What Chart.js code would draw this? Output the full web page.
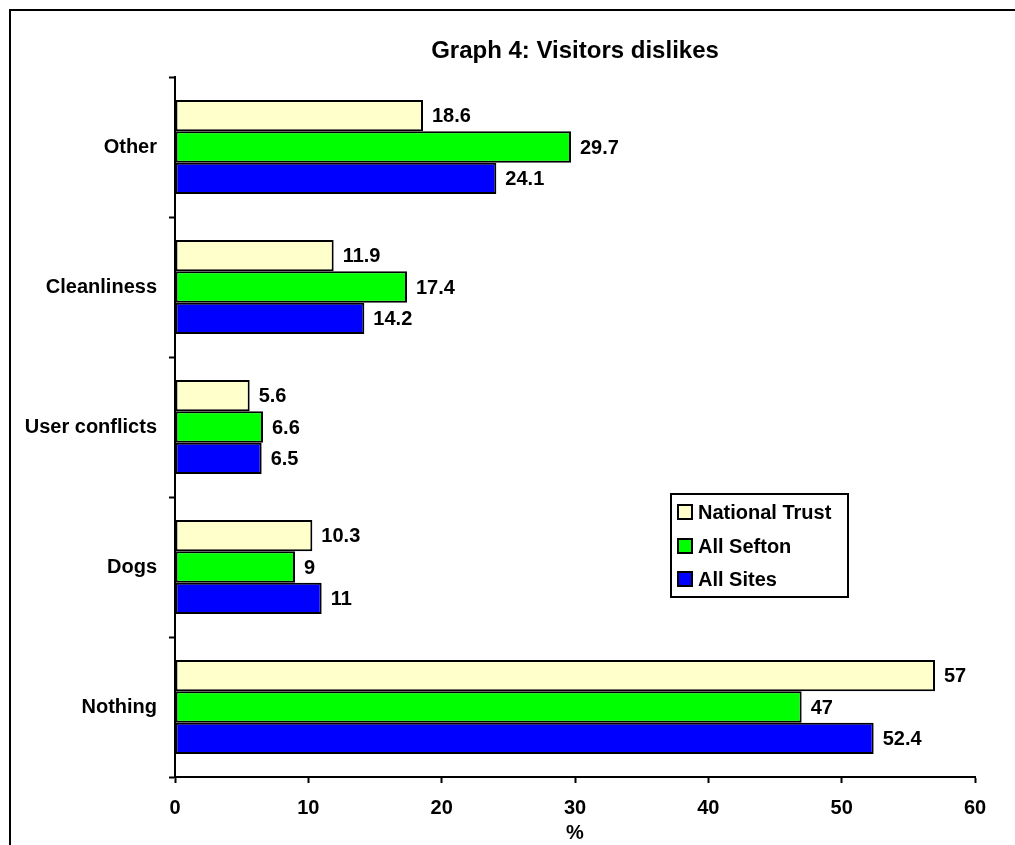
<!DOCTYPE html>
<html lang="en">
<head>
  <meta charset="UTF-8">
  <title>Graph 4: Visitors dislikes</title>
  <script src="https://cdn.jsdelivr.net/npm/chart.js"></script>
  <style>
    body { margin: 0; background: #fff; }
    #wrap { position: relative; width: 1015px; height: 845px; }
  </style>
</head>
<body>
  <div id="wrap"><canvas id="chart"></canvas></div>
  <script>
    // values
    const categories = ['Other', 'Cleanliness', 'User conflicts', 'Dogs', 'Nothing'];
    const seriesNames = ['National Trust', 'All Sefton', 'All Sites'];
    const nationalTrust = [18.6, 11.9, 5.6, 10.3, 57];
    const allSefton = [29.7, 17.4, 6.6, 9, 47];
    const allSites = [24.1, 14.2, 6.5, 11, 52.4];
    const xMin = 0, xMax = 60, xStep = 10;

    const FONT = 'Liberation Sans, Arial, sans-serif';
    const colors = ['#FFFFCC', '#00FF00', '#0000FF'];

    // outer frame, title, value labels and the boxed legend
    const extras = {
      id: 'extras',
      beforeDraw(chart) {
        const ctx = chart.ctx;
        ctx.save();
        ctx.strokeStyle = '#000';
        ctx.lineWidth = 2;
        ctx.strokeRect(10, 10, 1030, 860);
        ctx.restore();
      },
      afterDraw(chart) {
        const ctx = chart.ctx;
        const area = chart.chartArea;
        ctx.save();
        ctx.fillStyle = '#000';

        // title
        ctx.font = 'bold 24px ' + FONT;
        ctx.textAlign = 'center';
        ctx.textBaseline = 'middle';
        ctx.fillText('Graph 4: Visitors dislikes', (area.left + area.right) / 2, 51);

        // value labels
        ctx.font = 'bold 20px ' + FONT;
        ctx.textAlign = 'left';
        chart.data.datasets.forEach((ds, i) => {
          chart.getDatasetMeta(i).data.forEach((bar, j) => {
            ctx.fillText(String(ds.data[j]), bar.x + 9, bar.y + 1);
          });
        });

        // legend box
        const lx = 671, ly = 494, lw = 177, lh = 103;
        ctx.lineWidth = 2;
        ctx.strokeStyle = '#000';
        ctx.fillStyle = '#fff';
        ctx.fillRect(lx, ly, lw, lh);
        ctx.strokeRect(lx, ly, lw, lh);
        const rows = [512, 546, 579];
        chart.data.datasets.forEach((ds, i) => {
          ctx.fillStyle = ds.backgroundColor;
          ctx.fillRect(678, rows[i] - 7, 14, 14);
          ctx.strokeRect(678, rows[i] - 7, 14, 14);
          ctx.fillStyle = '#000';
          ctx.font = 'bold 20px ' + FONT;
          ctx.textBaseline = 'middle';
          ctx.fillText(ds.label, 698, rows[i] + 1);
        });
        ctx.restore();
      }
    };

    const makeSet = (i, data) => ({
      label: seriesNames[i],
      data: data,
      backgroundColor: colors[i],
      borderColor: '#000',
      borderWidth: 2,
      borderSkipped: false,
      barPercentage: 1,
      categoryPercentage: 0.67
    });

    new Chart(document.getElementById('chart'), {
      type: 'bar',
      data: {
        labels: categories,
        datasets: [
          makeSet(0, nationalTrust),
          makeSet(1, allSefton),
          makeSet(2, allSites)
        ]
      },
      options: {
        indexAxis: 'y',
        responsive: true,
        maintainAspectRatio: false,
        animation: false,
        layout: { padding: { top: 77, right: 40, left: 0, bottom: 0 } },
        plugins: {
          legend: { display: false },
          title: { display: false },
          tooltip: { enabled: false }
        },
        scales: {
          x: {
            min: xMin,
            max: xMax,
            ticks: {
              stepSize: xStep,
              color: '#000',
              padding: 13,
              font: { family: FONT, size: 20, weight: 'bold' }
            },
            grid: { drawOnChartArea: false, tickLength: 6, tickWidth: 2, color: '#000' },
            border: { color: '#000', width: 2 },
            title: {
              display: true,
              text: '%',
              color: '#000',
              padding: { top: 0, bottom: 0 },
              font: { family: FONT, size: 20, weight: 'bold', lineHeight: 1.2 }
            },
            afterFit(scale) { scale.height = 68; }
          },
          y: {
            ticks: {
              color: '#000',
              padding: 12,
              font: { family: FONT, size: 20, weight: 'bold' }
            },
            grid: { drawOnChartArea: false, tickLength: 6, tickWidth: 2, color: '#000', offset: true },
            border: { color: '#000', width: 2 },
            afterFit(scale) { scale.width = 175; }
          }
        }
      },
      plugins: [extras]
    });
  </script>
</body>
</html>
